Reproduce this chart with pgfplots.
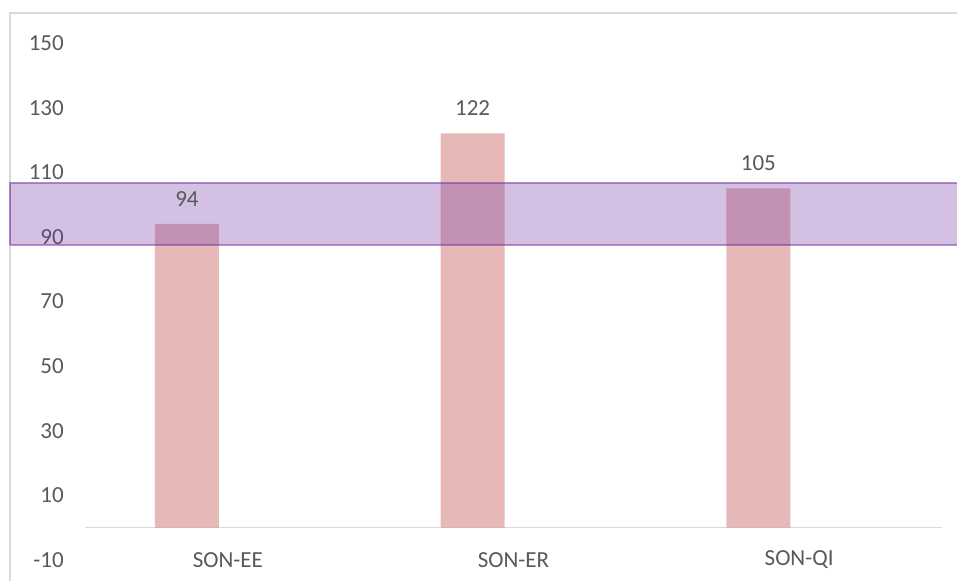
\documentclass[border=0pt]{standalone}
\usepackage{fontspec}
\setmainfont{Carlito}
\usepackage{pgfplots}
\pgfplotsset{compat=1.18}
\definecolor{barred}{RGB}{192,80,77}
\definecolor{bandpurple}{RGB}{112,48,160}
\definecolor{txt}{RGB}{89,89,89}
\definecolor{framegray}{RGB}{217,217,217}
\begin{document}
\begin{tikzpicture}[x=1pt,y=1pt]
\path[use as bounding box] (0,0) rectangle (957,581);
\draw[framegray, line width=2pt] (10,0) -- (10,568) -- (957,568);
\begin{axis}[
  at={(85pt,21pt)}, anchor=south west,
  scale only axis, width=857pt, height=517pt,
  xmin=-0.5, xmax=2.5, ymin=-10, ymax=150,
  axis line style={draw=none},
  ytick={-10,10,30,50,70,90,110,130,150},
  yticklabels={-10,10,30,50,70,90,110,130,150},
  xtick={0,1,2}, xticklabels={SON-EE,SON-ER,SON-QI},
  major tick length=0pt,
  /pgf/number format/assume math mode=true,
  tick label style={font=\fontsize{23}{27}\selectfont, text=txt},
  yticklabel style={anchor=east, inner sep=0pt, xshift=-21pt},
  xticklabel style={anchor=center, inner sep=0pt},
  clip=false,
]
\addplot[framegray, line width=1.5pt] coordinates {(-0.5,0) (2.5,0)};
\addplot[ybar, bar width=64pt, fill=barred, fill opacity=0.4, draw=none,
  nodes near coords,
  nodes near coords style={anchor=south, inner sep=0pt, yshift=17.5pt,
    font=\fontsize{23}{27}\selectfont, text=txt, opacity=1, text opacity=1, fill opacity=1}]
  coordinates {(-0.143,94) (0.857,122) (1.857,105)};
\addplot[fill=bandpurple, fill opacity=0.3, draw=bandpurple, draw opacity=0.5,
  line width=2pt, line join=miter, mark=none]
  coordinates {(-0.7625,87.5) (2.6,87.5) (2.6,106.8) (-0.7625,106.8) (-0.7625,87.5)};
\end{axis}
\end{tikzpicture}
\end{document}
